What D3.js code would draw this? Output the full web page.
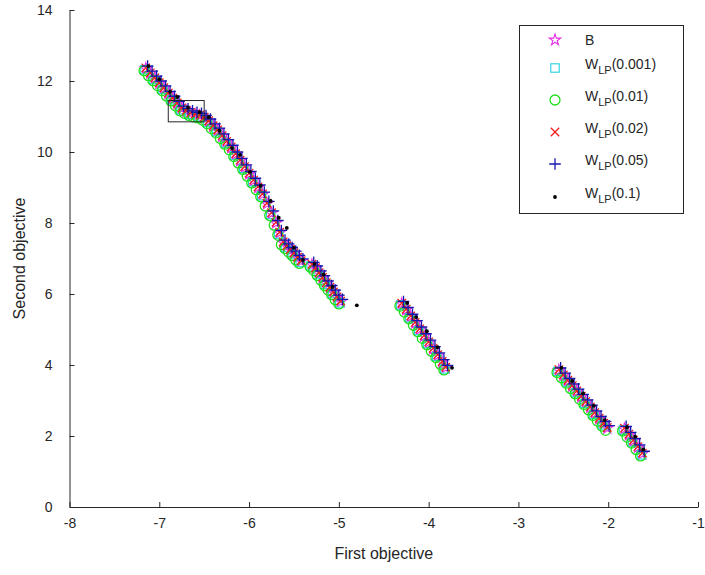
<!DOCTYPE html>
<html>
<head>
<meta charset="utf-8">
<script src="https://cdn.jsdelivr.net/npm/d3@7"></script>
<style>
  body { margin: 0; background: #fff; }
  text { font-family: "Liberation Sans", Arial, sans-serif; fill: #262626; }
</style>
</head>
<body>
<div id="chart"></div>
<script>
// Pareto front B and the W_LP approximations
const seriesB = [
  [-7.15,12.35],[-7.10,12.21],[-7.05,12.07],[-7.00,11.93],[-6.95,11.79],[-6.90,11.64],[-6.85,11.50],[-6.80,11.36],[-6.75,11.22],[-6.70,11.15],[-6.65,11.09],[-6.60,11.05],[-6.55,11.02],[-6.50,10.96],[-6.45,10.86],[-6.40,10.72],[-6.35,10.60],[-6.30,10.44],[-6.25,10.28],[-6.20,10.12],[-6.15,9.93],[-6.10,9.75],[-6.05,9.57],[-6.00,9.38],[-5.95,9.19],[-5.90,9.00],[-5.85,8.80],[-5.80,8.54],[-5.75,8.27],[-5.70,8.00],[-5.66,7.72],[-5.62,7.45],[-5.58,7.34],[-5.54,7.24],[-5.50,7.14],[-5.46,7.02],[-5.42,6.92],
  [-5.30,6.82],[-5.26,6.72],[-5.22,6.58],[-5.18,6.45],[-5.14,6.30],[-5.10,6.17],[-5.06,6.04],[-5.02,5.90],[-4.98,5.78],
  [-4.30,5.72],[-4.25,5.55],[-4.20,5.36],[-4.15,5.18],[-4.10,5.00],[-4.05,4.81],[-4.00,4.63],[-3.95,4.45],[-3.90,4.27],[-3.85,4.08],[-3.81,3.92],
  [-2.55,3.85],[-2.50,3.70],[-2.45,3.55],[-2.40,3.40],[-2.35,3.25],[-2.30,3.10],[-2.25,2.95],[-2.20,2.80],[-2.15,2.64],[-2.10,2.48],[-2.05,2.34],[-2.01,2.22],
  [-1.82,2.20],[-1.77,2.03],[-1.72,1.86],[-1.67,1.68],[-1.62,1.50]
];
const seriesW001 = [
  [-7.16,12.32],[-7.06,12.04],[-6.96,11.76],[-6.86,11.47],[-6.76,11.19],[-6.66,11.06],[-6.56,10.99],[-6.46,10.83],[-6.36,10.57],[-6.26,10.25],[-6.16,9.90],[-6.06,9.54],[-5.96,9.16],[-5.86,8.77],[-5.76,8.24],[-5.67,7.69],[-5.59,7.31],[-5.51,7.11],[-5.43,6.89],
  [-5.31,6.79],[-5.23,6.55],[-5.15,6.27],[-5.07,6.01],[-4.99,5.75],
  [-4.31,5.69],[-4.21,5.33],[-4.11,4.97],[-4.01,4.60],[-3.91,4.24],[-3.82,3.89],
  [-2.56,3.82],[-2.46,3.52],[-2.36,3.22],[-2.26,2.92],[-2.16,2.61],[-2.06,2.31],
  [-1.83,2.17],[-1.73,1.83],[-1.63,1.47]
];
const seriesW01 = [
  [-7.17,12.29],[-7.12,12.15],[-7.07,12.01],[-7.02,11.87],[-6.97,11.73],[-6.92,11.58],[-6.87,11.44],[-6.82,11.30],[-6.77,11.16],[-6.72,11.09],[-6.67,11.03],[-6.62,10.99],[-6.57,10.96],[-6.52,10.90],[-6.47,10.80],[-6.42,10.66],[-6.37,10.54],[-6.32,10.38],[-6.27,10.22],[-6.22,10.06],[-6.17,9.87],[-6.12,9.69],[-6.07,9.51],[-6.02,9.32],[-5.97,9.13],[-5.92,8.94],[-5.87,8.74],[-5.82,8.48],[-5.77,8.21],[-5.72,7.94],[-5.68,7.66],[-5.64,7.39],[-5.60,7.28],[-5.56,7.18],[-5.52,7.08],[-5.48,6.96],[-5.44,6.86],
  [-5.32,6.76],[-5.28,6.66],[-5.24,6.52],[-5.20,6.39],[-5.16,6.24],[-5.12,6.11],[-5.08,5.98],[-5.04,5.84],[-5.00,5.72],
  [-4.32,5.66],[-4.27,5.49],[-4.22,5.30],[-4.17,5.12],[-4.12,4.94],[-4.07,4.75],[-4.02,4.57],[-3.97,4.39],[-3.92,4.21],[-3.87,4.02],[-3.83,3.86],
  [-2.57,3.79],[-2.52,3.64],[-2.47,3.49],[-2.42,3.34],[-2.37,3.19],[-2.32,3.04],[-2.27,2.89],[-2.22,2.74],[-2.17,2.58],[-2.12,2.42],[-2.07,2.28],[-2.03,2.16],
  [-1.84,2.14],[-1.79,1.97],[-1.74,1.80],[-1.69,1.62],[-1.64,1.44]
];
const seriesW02 = [
  [-7.15,12.37],[-7.10,12.23],[-7.05,12.09],[-7.00,11.95],[-6.95,11.81],[-6.90,11.66],[-6.85,11.52],[-6.80,11.38],[-6.75,11.24],[-6.70,11.17],[-6.65,11.11],[-6.60,11.07],[-6.55,11.04],[-6.50,10.98],[-6.45,10.88],[-6.40,10.74],[-6.35,10.62],[-6.30,10.46],[-6.25,10.30],[-6.20,10.14],[-6.15,9.95],[-6.10,9.77],[-6.05,9.59],[-6.00,9.40],[-5.95,9.21],[-5.90,9.02],[-5.85,8.82],[-5.80,8.56],[-5.75,8.29],[-5.70,8.02],[-5.66,7.74],[-5.62,7.47],[-5.58,7.36],[-5.54,7.26],[-5.50,7.16],[-5.46,7.04],[-5.42,6.94],
  [-5.30,6.84],[-5.26,6.74],[-5.22,6.60],[-5.18,6.47],[-5.14,6.32],[-5.10,6.19],[-5.06,6.06],[-5.02,5.92],[-4.98,5.80],
  [-4.30,5.74],[-4.25,5.57],[-4.20,5.38],[-4.15,5.20],[-4.10,5.02],[-4.05,4.83],[-4.00,4.65],[-3.95,4.47],[-3.90,4.29],[-3.85,4.10],[-3.81,3.94],
  [-2.55,3.87],[-2.50,3.72],[-2.45,3.57],[-2.40,3.42],[-2.35,3.27],[-2.30,3.12],[-2.25,2.97],[-2.20,2.82],[-2.15,2.66],[-2.10,2.50],[-2.05,2.36],[-2.01,2.24],
  [-1.82,2.22],[-1.77,2.05],[-1.72,1.88],[-1.67,1.70],[-1.62,1.52]
];
const seriesW05 = [
  [-7.13,12.42],[-7.08,12.28],[-7.03,12.14],[-6.98,12.00],[-6.93,11.86],[-6.88,11.71],[-6.83,11.57],[-6.78,11.43],[-6.73,11.29],[-6.68,11.22],[-6.63,11.16],[-6.58,11.12],[-6.53,11.09],[-6.48,11.03],[-6.43,10.93],[-6.38,10.79],[-6.33,10.67],[-6.28,10.51],[-6.23,10.35],[-6.18,10.19],[-6.13,10.00],[-6.08,9.82],[-6.03,9.64],[-5.98,9.45],[-5.93,9.26],[-5.88,9.07],[-5.83,8.87],[-5.78,8.61],[-5.73,8.34],[-5.68,8.07],[-5.64,7.79],[-5.60,7.52],[-5.56,7.41],[-5.52,7.31],[-5.48,7.21],[-5.44,7.09],[-5.40,6.99],
  [-5.28,6.89],[-5.24,6.79],[-5.20,6.65],[-5.16,6.52],[-5.12,6.37],[-5.08,6.24],[-5.04,6.11],[-5.00,5.97],[-4.96,5.85],
  [-4.28,5.79],[-4.23,5.62],[-4.18,5.43],[-4.13,5.25],[-4.08,5.07],[-4.03,4.88],[-3.98,4.70],[-3.93,4.52],[-3.88,4.34],[-3.83,4.15],[-3.79,3.99],
  [-2.53,3.92],[-2.48,3.77],[-2.43,3.62],[-2.38,3.47],[-2.33,3.32],[-2.28,3.17],[-2.23,3.02],[-2.18,2.87],[-2.13,2.71],[-2.08,2.55],[-2.03,2.41],[-1.99,2.29],
  [-1.80,2.27],[-1.75,2.10],[-1.70,1.93],[-1.65,1.75],[-1.60,1.57]
];
const seriesW1 = [
  [-7.12,12.42],[-7.00,12.05],[-6.88,11.70],[-6.80,11.55],[-6.68,11.25],[-6.55,11.12],[-6.45,10.98],[-6.33,10.60],[-6.19,10.11],[-6.10,9.92],[-5.99,9.44],[-5.87,9.05],[-5.76,8.62],[-5.67,8.15],[-5.58,7.86],[-5.50,7.30],[-5.40,6.96],
  [-5.27,6.85],[-5.17,6.55],[-5.07,6.20],[-4.80,5.68],
  [-4.24,5.75],[-4.14,5.35],[-4.02,4.95],[-3.90,4.50],[-3.74,3.92],
  [-2.52,3.92],[-2.40,3.55],[-2.28,3.20],[-2.16,2.85],[-2.04,2.45],
  [-1.79,2.25],[-1.70,1.98],[-1.61,1.62]
];

const xTicks = [-8, -7, -6, -5, -4, -3, -2, -1];
const yTicks = [0, 2, 4, 6, 8, 10, 12, 14];
const zoomBox = [[-6.9, 10.85], [-6.5, 11.45]];

const series = [
  { data: seriesB,    marker: "star",   color: "#e62ee6", label: "B", eps: null },
  { data: seriesW001, marker: "square", color: "#22d2e0", label: "W", eps: "(0.001)" },
  { data: seriesW01,  marker: "circle", color: "#1ee01e", label: "W", eps: "(0.01)" },
  { data: seriesW02,  marker: "x",      color: "#f01c1c", label: "W", eps: "(0.02)" },
  { data: seriesW05,  marker: "plus",   color: "#1818b0", label: "W", eps: "(0.05)" },
  { data: seriesW1,   marker: "dot",    color: "#000000", label: "W", eps: "(0.1)" }
];

const width = 705, height = 575;
const svg = d3.select("#chart").append("svg")
  .attr("width", width).attr("height", height);

// soft blur so the dense markers blend like in the original
svg.append("defs").append("filter").attr("id", "soft")
  .append("feGaussianBlur").attr("stdDeviation", 0.45);

const x = d3.scaleLinear().domain([-8, -1]).range([69.5, 698]);
const y = d3.scaleLinear().domain([0, 14]).range([507, 10]);

// axes, ticks pointing inward like MATLAB
const xAxis = svg.append("g").attr("transform", `translate(0,${y(0)})`)
  .call(d3.axisBottom(x).tickValues(xTicks).tickSize(-5).tickSizeOuter(0).tickPadding(11)
    .tickFormat(d3.format("d")));
const yAxis = svg.append("g").attr("transform", `translate(${x(-8)},0)`)
  .call(d3.axisLeft(y).tickValues(yTicks).tickSize(-5).tickSizeOuter(0).tickPadding(17)
    .tickFormat(d3.format("d")));
[xAxis, yAxis].forEach(a => {
  a.selectAll("path, line").attr("stroke", "#262626");
  a.selectAll("text").style("font-size", "14px").attr("fill", "#262626")
    .style("font-family", '"Liberation Sans", Arial, sans-serif');
});
xAxis.selectAll("text").text(d => d < 0 ? "-" + Math.abs(d) : d);

svg.append("text").attr("x", (x(-8) + x(-1)) / 2).attr("y", 559)
  .attr("text-anchor", "middle").style("font-size", "16px").text("First objective");
svg.append("text").attr("transform", `translate(25,${(y(0) + y(14)) / 2}) rotate(-90)`)
  .attr("text-anchor", "middle").style("font-size", "16px").text("Second objective");

function drawMarker(g, type, color) {
  if (type === "star") {
    g.append("path").attr("d", d3.symbol().type(d3.symbolStar).size(40)())
      .attr("fill", "none").attr("stroke", color).attr("stroke-width", 1.1);
  } else if (type === "square") {
    g.append("rect").attr("x", -4.2).attr("y", -4.2).attr("width", 8.4).attr("height", 8.4)
      .attr("fill", "none").attr("stroke", color).attr("stroke-width", 1.1);
  } else if (type === "circle") {
    g.append("circle").attr("r", 5)
      .attr("fill", "none").attr("stroke", color).attr("stroke-width", 1.3);
  } else if (type === "x") {
    g.append("path").attr("d", "M-4.2,-4.2L4.2,4.2M-4.2,4.2L4.2,-4.2")
      .attr("stroke", color).attr("stroke-width", 1.3);
  } else if (type === "plus") {
    g.append("path").attr("d", "M-5.8,0L5.8,0M0,-5.8L0,5.8")
      .attr("stroke", color).attr("stroke-width", 1.3);
  } else {
    g.append("circle").attr("r", 1.9).attr("fill", color);
  }
}

const plot = svg.append("g").attr("filter", "url(#soft)");
series.forEach(s => {
  plot.append("g").selectAll("g").data(s.data).enter().append("g")
    .attr("transform", d => `translate(${x(d[0])},${y(d[1])})`)
    .each(function () { drawMarker(d3.select(this), s.marker, s.color); });
});

// highlighted region
svg.append("rect")
  .attr("x", x(zoomBox[0][0])).attr("y", y(zoomBox[1][1]))
  .attr("width", x(zoomBox[1][0]) - x(zoomBox[0][0]))
  .attr("height", y(zoomBox[0][1]) - y(zoomBox[1][1]))
  .attr("fill", "none").attr("stroke", "#262626").attr("stroke-width", 1);

// legend
const legend = svg.append("g");
legend.append("rect").attr("x", 519.5).attr("y", 25.5).attr("width", 164).attr("height", 188)
  .attr("fill", "#fff").attr("stroke", "#262626").attr("stroke-width", 1);
const rowY = [40, 68, 100, 132, 164, 197];
series.forEach((s, i) => {
  const row = legend.append("g").attr("transform", `translate(0,${rowY[i]})`);
  const m = row.append("g").attr("transform", "translate(555,0)");
  drawMarker(m, s.marker, s.color);
  const t = row.append("text").attr("x", 585).attr("y", s.eps ? 1 : 5).style("font-size", "14px");
  t.append("tspan").text(s.label);
  if (s.eps) {
    t.append("tspan").attr("dy", 5).style("font-size", "11px").text("LP");
    t.append("tspan").attr("dy", -5).text(s.eps);
  }
});
</script>
</body>
</html>
